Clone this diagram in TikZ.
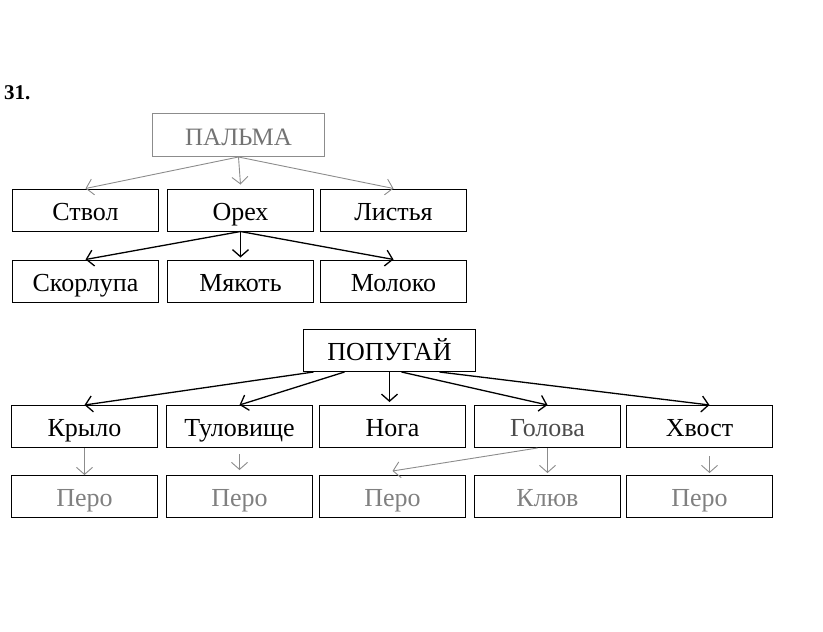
\documentclass[tikz,border=0pt]{standalone}
\usepackage{fontspec}
\setmainfont{Liberation Serif}
\usetikzlibrary{positioning}
\usetikzlibrary{arrows.meta}

\begin{document}
\begin{tikzpicture}[
		% boxes and arrows, one pixel of the scan = 1pt
		box/.style={draw, line width=1pt, minimum width=146pt, minimum height=42pt, inner sep=0pt, text height=20.5pt, text depth=0.5pt, font=\fontsize{26}{28}\selectfont},
		palebox/.style={box, draw=black!45, text=black!55},
		greytext/.style={box, text=black!50},
		arrow/.style={-{Straight Barb[length=7pt, width=16pt]}, line width=1.3pt},
		palearrow/.style={arrow, draw=black!45, line width=0.9pt},
		x=1pt, y=1pt,
		]
		\useasboundingbox (0,0) rectangle (823,-632);
		\node[font=\bfseries\fontsize{21}{24}\selectfont, anchor=west, inner sep=0pt] (num) at (4,-93) {31.};

		% Palm tree
		\node[palebox, minimum width=172pt, minimum height=43pt, font=\fontsize{25}{28}\selectfont] (palma) at (238.5,-135) {ПАЛЬМА};
		\node[box] (orekh) at (240.5,-210) {Орех};
		\node[box, left=8pt of orekh] (stvol) {Ствол};
		\node[box, right=6pt of orekh] (listya) {Листья};
		\node[box, below=28pt of orekh] (myakot) {Мякоть};
		\node[box, below=28pt of stvol] (skorlupa) {Скорлупа};
		\node[box, below=28pt of listya] (moloko) {Молоко};

		\draw[palearrow] (palma.south) -- (stvol.north);
		\draw[palearrow] (palma.south) -- ([yshift=4pt]orekh.north);
		\draw[palearrow] (palma.south) -- (listya.north);
		\draw[arrow] (orekh.south) -- (skorlupa.north);
		\draw[arrow] (orekh.south) -- ([yshift=2pt]myakot.north);
		\draw[arrow] (orekh.south) -- (moloko.north);

		% Parrot
		\node[box, minimum width=172pt] (popugay) at (389.5,-350.5) {ПОПУГАЙ};
		\node[box] (krylo) at (84.5,-426.5) {Крыло};
		\node[box, right=8pt of krylo] (tulovishche) {Туловище};
		\node[box, right=6pt of tulovishche] (noga) {Нога};
		\node[box, right=8pt of noga, text=black!70] (golova) {Голова};
		\node[box, right=5pt of golova] (khvost) {Хвост};
		\node[greytext, below=27pt of krylo] (pero1) {Перо};
		\node[greytext, below=27pt of tulovishche] (pero2) {Перо};
		\node[greytext, below=27pt of noga] (pero3) {Перо};
		\node[greytext, below=27pt of golova] (klyuv) {Клюв};
		\node[greytext, below=27pt of khvost] (pero4) {Перо};

		\draw[arrow] ([xshift=-76pt]popugay.south) -- (krylo.north);
		\draw[arrow] ([xshift=-45pt]popugay.south) -- (tulovishche.north);
		\draw[arrow] (popugay.south) -- ([yshift=3pt]popugay.south |- noga.north);
		\draw[arrow] ([xshift=12pt]popugay.south) -- (golova.north);
		\draw[arrow] ([xshift=50pt]popugay.south) -- ([xshift=10pt]khvost.north);

		\draw[palearrow] (krylo.south) -- (pero1.north);
		\draw[palearrow] ([yshift=-6pt]tulovishche.south) -- ([yshift=5pt]pero2.north);
		\draw[palearrow] ([xshift=-10pt]golova.south) -- ([yshift=4pt]pero3.north);
		\draw[palearrow] (golova.south) -- ([yshift=2pt]klyuv.north);
		\draw[palearrow] ([xshift=10pt, yshift=-8pt]khvost.south) -- ([xshift=10pt, yshift=2pt]pero4.north);
	\end{tikzpicture}
\end{document}
